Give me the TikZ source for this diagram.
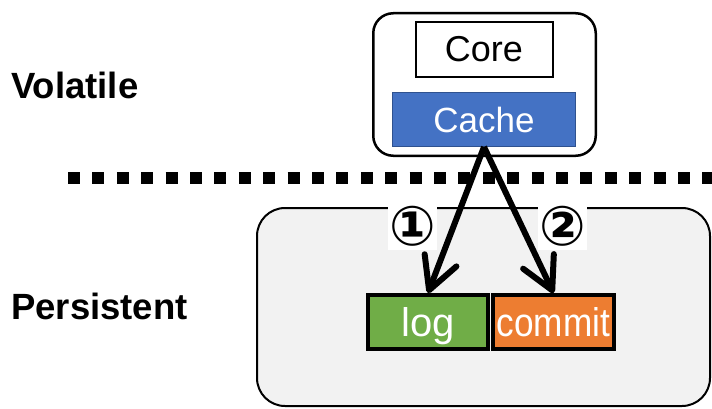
\documentclass[tikz,border=0pt]{standalone}
\usepackage{fontspec}
\setmainfont{Liberation Sans}
\newfontfamily\circfont{DejaVu Sans}
\usetikzlibrary{positioning,arrows.meta}

\definecolor{cacheblue}{HTML}{4472C4}
\definecolor{cacheedge}{HTML}{2F528F}
\definecolor{loggreen}{HTML}{70AD47}
\definecolor{commitorange}{HTML}{ED7D31}
\definecolor{pmgray}{HTML}{F2F2F2}

\tikzset{
  layer/.style = {font = \fontsize{36.5}{40}\selectfont\bfseries, inner sep = 0pt, anchor = west},
  region/.style = {draw, shape = rectangle, inner sep = 0pt},
  cell/.style = {draw, shape = rectangle, inner sep = 0pt, text = white},
  pmcell/.style = {cell, line width = 4pt, minimum height = 54pt, text depth = 0pt, font = \fontsize{40}{44}\selectfont},
  flow/.style = {line width = 6pt, -{Straight Barb[length = 32pt, width = 34pt, round]}},
  step mark/.style = {fill = white, inner sep = 0pt, minimum width = 49pt, minimum height = 47pt, font = \circfont\bfseries\fontsize{55}{56}\selectfont}
}

\begin{document}
\begin{tikzpicture}[x = 1pt, y = 1pt]
\useasboundingbox (0,0) rectangle (712,408);

% volatile / persistent border
\coordinate (sepL) at (68,230);
\coordinate (sepR) at (712,230);
\draw[line width = 12pt, dash pattern = on 12pt off 12.4pt] (sepL) -- (sepR);

% persistent memory
\node[region, fill = pmgray, line width = 2pt, rounded corners = 28pt, minimum width = 453pt, minimum height = 198pt] (pm) at (483.5,101) {};
\node[pmcell, fill = loggreen, minimum width = 120pt] (log) at (428,86) {log};
\node[pmcell, fill = commitorange, minimum width = 121pt, right = 1pt of log] (commit) {\scalebox{0.88}[1]{commit}};

% processor
\node[region, fill = white, line width = 2.5pt, rounded corners = 20pt, minimum width = 222.5pt, minimum height = 142.5pt] (cpu) at (484.5,323.5) {};
\node[cell, fill = cacheblue, draw = cacheedge, line width = 0.8pt, minimum width = 183pt, minimum height = 54pt, font = \fontsize{35}{40}\selectfont] (cache) at (484,288.5) {Cache};
\node[cell, text = black, line width = 2pt, minimum width = 137pt, minimum height = 55pt, font = \fontsize{36}{40}\selectfont, above = 14pt of cache] (core) {Core};

% write order
\draw[flow] (cache.south) -- (log.north);
\draw[flow] (cache.south) -- (commit.north);
\node[step mark] (first) at (412.5,181.5) {①};
\node[step mark] (second) at (562.5,181.5) {②};

\node[layer] (volatile) at (11,323) {Volatile};
\node[layer] (persistent) at (11,101.5) {Persistent};
\end{tikzpicture}
\end{document}
